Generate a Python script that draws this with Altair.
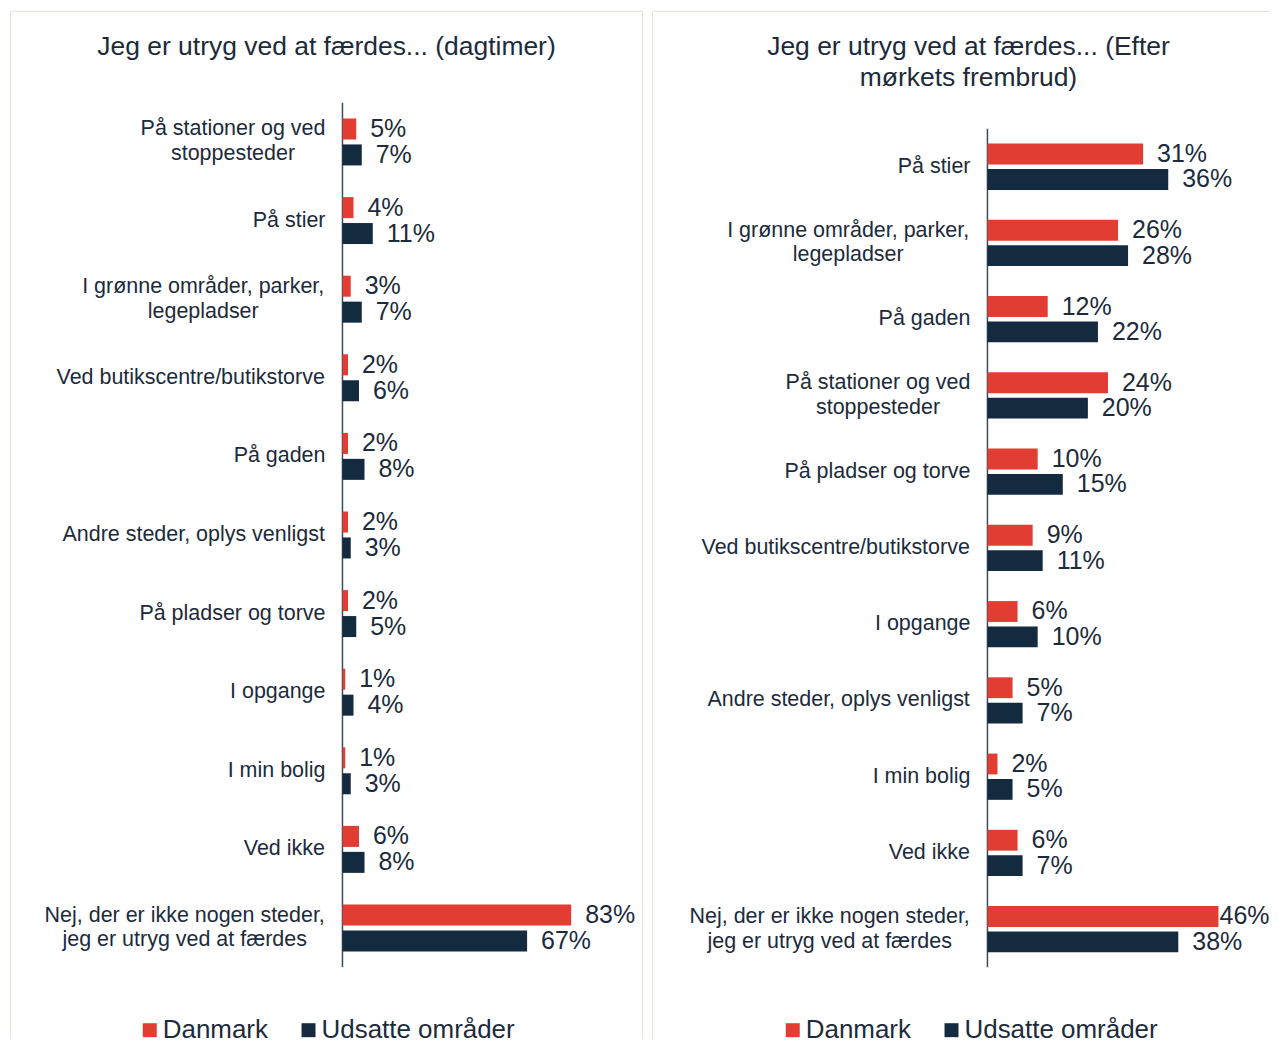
import altair as alt
import pandas as pd

# ---------------- data ----------------
series = ["Danmark", "Udsatte områder"]

day_title = "Jeg er utryg ved at færdes... (dagtimer)"
day_categories = [
    "På stationer og ved\nstoppesteder",
    "På stier",
    "I grønne områder, parker,\nlegepladser",
    "Ved butikscentre/butikstorve",
    "På gaden",
    "Andre steder, oplys venligst",
    "På pladser og torve",
    "I opgange",
    "I min bolig",
    "Ved ikke",
    "Nej, der er ikke nogen steder,\njeg er utryg ved at færdes",
]
day_danmark = [5, 4, 3, 2, 2, 2, 2, 1, 1, 6, 83]
day_udsatte = [7, 11, 7, 6, 8, 3, 5, 4, 3, 8, 67]

night_title = "Jeg er utryg ved at færdes... (Efter\nmørkets frembrud)"
night_categories = [
    "På stier",
    "I grønne områder, parker,\nlegepladser",
    "På gaden",
    "På stationer og ved\nstoppesteder",
    "På pladser og torve",
    "Ved butikscentre/butikstorve",
    "I opgange",
    "Andre steder, oplys venligst",
    "I min bolig",
    "Ved ikke",
    "Nej, der er ikke nogen steder,\njeg er utryg ved at færdes",
]
night_danmark = [31, 26, 12, 24, 10, 9, 6, 5, 2, 6, 46]
night_udsatte = [36, 28, 22, 20, 15, 11, 10, 7, 5, 7, 38]

# ---------------- style ----------------
FONT = "Liberation Sans"
TXT = "#1c2b3b"
RED = "#E23D33"
NAVY = "#142A3E"
AXIS = "#3b4a5c"
BORDER = "#e9e3d6"
CAT_SIZE = 21.5
CAT_LH = 25
VAL_SIZE = 25
VAL_GAP = 14
TITLE_SIZE = 26.5
TITLE_LH = 31

# Arial/Liberation Sans advance widths (per 1000 em) for text-width estimates
ADV = {' ': 278, ',': 278, '.': 278, '/': 278, '%': 889,
       'a': 556, 'b': 556, 'c': 500, 'd': 556, 'e': 556, 'f': 278, 'g': 556,
       'h': 556, 'i': 222, 'j': 222, 'k': 500, 'l': 222, 'm': 833, 'n': 556,
       'o': 556, 'p': 556, 'q': 556, 'r': 333, 's': 500, 't': 278, 'u': 556,
       'v': 500, 'w': 722, 'x': 500, 'y': 500, 'z': 500, 'å': 556, 'æ': 889,
       'ø': 611, 'A': 667, 'I': 278, 'J': 500, 'N': 722, 'P': 667, 'V': 667,
       'U': 722, 'D': 722}


def text_w(s, size):
    return sum(ADV.get(ch, 556) for ch in s) * size / 1000.0


def panel(title, cats, dk, ud, W, H, y_range, x_range, label_right,
          title_x, title_y, legend_x, yo_inner, yo_outer, right_border):
    span = x_range[1] - x_range[0]
    ppu = span / 100.0  # pixels per percentage point

    rows = []
    for c, a, b in zip(cats, dk, ud):
        for s, v in ((series[0], a), (series[1], b)):
            lab = f"{v}%"
            # label sits VAL_GAP px right of the bar, kept inside the panel
            start_px = min(x_range[0] + v * ppu + VAL_GAP, W - 0.5 - text_w(lab, VAL_SIZE))
            rows.append({"cat": c, "series": s, "value": v, "label": lab,
                         "lpos": (start_px - x_range[0]) / ppu})
    df = pd.DataFrame(rows)

    yscale = alt.Scale(domain=cats, range=y_range, paddingInner=0, paddingOuter=0)
    xscale = alt.Scale(domain=[0, 100], range=x_range)
    yoscale = alt.Scale(domain=series, paddingInner=yo_inner, paddingOuter=yo_outer)

    y_enc = alt.Y("cat:N", scale=yscale, axis=None, sort=cats)
    x_enc = alt.X("value:Q", scale=xscale, axis=None)
    yo_enc = alt.YOffset("series:N", scale=yoscale, sort=series)

    color = alt.Color(
        "series:N",
        scale=alt.Scale(domain=series, range=[RED, NAVY]),
        legend=alt.Legend(
            title=None, orient="none", legendX=legend_x, legendY=1008,
            direction="horizontal", symbolType="square", symbolSize=196,
            symbolStrokeWidth=0, labelFontSize=26, labelFont=FONT,
            labelColor=TXT, labelOffset=0, columnPadding=27, labelLimit=400,
        ),
    )

    base = alt.Chart(df)
    bars = base.mark_bar().encode(x=x_enc, y=y_enc, yOffset=yo_enc, color=color)
    vals = base.mark_text(
        align="left", baseline="middle", fontSize=VAL_SIZE, font=FONT, color=TXT
    ).encode(x=alt.X("lpos:Q", scale=xscale, axis=None), y=y_enc, yOffset=yo_enc,
             text="label:N")

    # category labels: centred block, right edge at label_right (converted to data units)
    lx, nl = [], []
    for c in cats:
        lines = c.split("\n")
        w = max(text_w(line, CAT_SIZE) for line in lines)
        px = label_right - w / 2.0
        lx.append((px - x_range[0]) / ppu)
        nl.append(len(lines))
    lab_df = pd.DataFrame({"cat": cats, "value": lx, "n": nl})
    label_layers = []
    for n in sorted(set(nl)):
        label_layers.append(
            alt.Chart(lab_df[lab_df["n"] == n]).mark_text(
                align="center", baseline="middle", fontSize=CAT_SIZE,
                lineHeight=CAT_LH, lineBreak="\n", font=FONT, color=TXT,
                dy=-(n - 1) * CAT_LH / 2.0,
            ).encode(x=x_enc, y=y_enc, text="cat:N")
        )

    # vertical axis line at 0
    axis_line = alt.Chart(pd.DataFrame({"value": [0]})).mark_rule(
        color=AXIS, strokeWidth=1.5
    ).encode(x=x_enc, y=alt.value(y_range[0]), y2=alt.value(y_range[1]))

    title_layer = alt.Chart(pd.DataFrame({"t": [title]})).mark_text(
        align="center", baseline="middle", fontSize=TITLE_SIZE, lineHeight=TITLE_LH,
        lineBreak="\n", font=FONT, color=TXT
    ).encode(x=alt.value(title_x), y=alt.value(title_y), text="t:N")

    one = pd.DataFrame({"k": [0]})
    borders = [
        alt.Chart(one).mark_rule(color=BORDER, strokeWidth=1).encode(
            x=alt.value(0.5), y=alt.value(0.5), y2=alt.value(H)),
        alt.Chart(one).mark_rule(color=BORDER, strokeWidth=1).encode(
            x=alt.value(0.5), x2=alt.value(W), y=alt.value(0.5)),
    ]
    if right_border:
        borders.append(alt.Chart(one).mark_rule(color=BORDER, strokeWidth=1).encode(
            x=alt.value(W - 0.5), y=alt.value(0.5), y2=alt.value(H)))

    return alt.layer(*borders, axis_line, bars, vals, *label_layers, title_layer).properties(
        width=W, height=H
    )


H = 1030
left = panel(day_title, day_categories, day_danmark, day_udsatte,
             W=634, H=H, y_range=[92, 958], x_range=[333, 609], label_right=316,
             title_x=317, title_y=36, legend_x=127, yo_inner=0.19, yo_outer=0.61,
             right_border=True)
right = panel(night_title, night_categories, night_danmark, night_udsatte,
              W=619, H=H, y_range=[118, 958], x_range=[336, 839], label_right=319,
              title_x=317, title_y=36, legend_x=128, yo_inner=0.18, yo_outer=0.59,
              right_border=False)

chart = alt.hconcat(left, right, spacing=8).resolve_scale(
    x="independent", y="independent", yOffset="independent", color="independent"
).resolve_legend(color="independent").configure_view(stroke=None).properties(
    padding={"left": 2, "top": 2, "right": 0, "bottom": 0},
    background="white",
)

chart.save("out.html", embed_options={"renderer": "svg", "actions": False})
